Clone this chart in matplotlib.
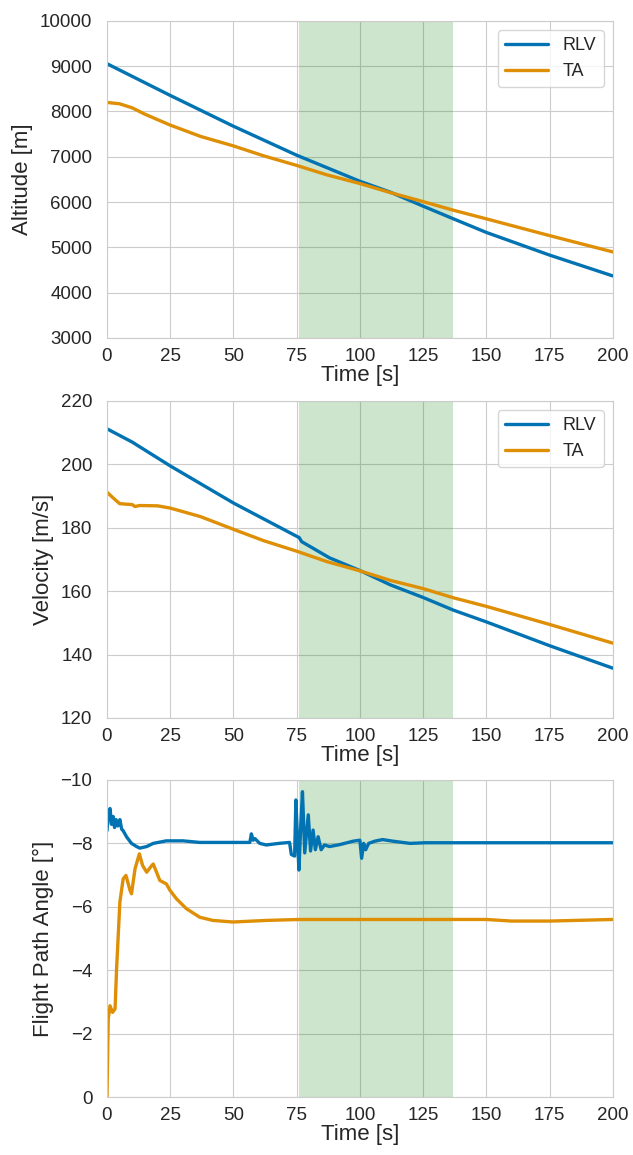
import matplotlib
matplotlib.use("Agg")
import matplotlib.pyplot as plt
import seaborn as sns

sns.set_style("whitegrid")
plt.rcParams['font.family'] = ['Liberation Sans', 'DejaVu Sans']

# altitude [m]
alt_rlv_t = [0, 25, 50, 75, 100, 112, 125, 137, 150, 175, 200]
alt_rlv = [9055, 8355, 7675, 7035, 6460, 6220, 5910, 5630, 5330, 4830, 4370]
alt_ta_t = [0, 5, 10, 15, 25, 37, 50, 62, 75, 87, 100, 112, 125, 137, 150, 175, 200]
alt_ta = [8200, 8170, 8080, 7940, 7700, 7450, 7240, 7020, 6810, 6600, 6410, 6210,
          6010, 5820, 5630, 5260, 4900]

# velocity [m/s]
vel_rlv_t = [0, 10, 25, 50, 75, 76, 77, 88, 100, 112, 125, 137, 150, 175, 200]
vel_rlv = [211.2, 207.0, 199.5, 187.8, 177.3, 176.9, 175.6, 170.5, 166.5, 162.0,
           158.0, 154.0, 150.3, 142.8, 135.7]
vel_ta_t = [0, 3, 5, 8, 10, 11, 13, 20, 25, 37, 50, 62, 75, 87, 100, 112, 125, 137,
            150, 175, 200]
vel_ta = [191.2, 189.0, 187.6, 187.4, 187.3, 186.7, 187.0, 186.9, 186.2, 183.5,
          179.5, 175.9, 172.6, 169.3, 166.4, 163.4, 160.8, 157.9, 155.2, 149.5, 143.6]

# flight path angle [deg]
fpa_rlv_t = [0, 0.6, 1.2, 1.8, 2.4, 3.0, 3.6, 4.3, 5.1, 5.8, 6.4, 7.8, 9.7, 11.7, 13.0,
             15.7, 18.3, 23.5, 30, 36.7, 56.5, 57.1, 57.8, 58.5, 60.4, 63, 68, 72.2,
             72.9, 74.2, 74.7, 75.3, 75.9, 76.6, 77.3, 78.2, 79.6, 80.5, 81.5, 82.4,
             83.5, 84.7, 86, 88, 92, 97.4, 100, 100.7, 101.5, 102.3, 103.5, 105.9,
             109, 113, 119.8, 126, 150, 175, 200]
fpa_rlv = [-8.4, -8.9, -9.1, -8.6, -8.85, -8.5, -8.75, -8.55, -8.75, -8.45, -8.4, -8.2,
           -8.0, -7.9, -7.85, -7.9, -8.0, -8.08, -8.08, -8.03, -8.03, -8.3, -8.1, -8.15,
           -8.0, -7.95, -8.0, -8.03, -7.65, -7.6, -9.37, -8.2, -7.16, -8.5, -9.63,
           -7.7, -8.9, -7.76, -8.42, -7.8, -8.21, -7.8, -7.95, -7.9, -7.96, -8.07, -8.1,
           -7.53, -8.0, -7.8, -8.0, -8.07, -8.12, -8.07, -8.0, -8.02, -8.02, -8.02, -8.02]
fpa_ta_t = [0, 0.5, 1.2, 2.2, 3.2, 3.8, 5.1, 6.4, 7.5, 9.1, 9.7, 11.1, 12.8, 14.1, 15.7,
            17.7, 18.3, 19.6, 20.9, 23.5, 24.9, 27.5, 31.4, 36.7, 41.9, 49.8, 63, 76,
            100, 150, 160, 175, 200]
fpa_ta = [0.0, -2.46, -2.88, -2.67, -2.78, -4.04, -6.15, -6.88, -6.99, -6.52, -6.41,
          -7.2, -7.67, -7.3, -7.09, -7.3, -7.35, -7.09, -6.83, -6.72, -6.52, -6.25,
          -5.94, -5.67, -5.57, -5.52, -5.57, -5.6, -5.6, -5.6, -5.55, -5.55, -5.6]

shade = (76, 137)
blue = '#0173b2'
orange = '#de8f05'

fig = plt.figure(figsize=(6.33, 11.55), dpi=100)
left, width, height = 0.169, 0.799, 0.2745
bottoms = [0.7074, 0.3784, 0.0502]
axes = [fig.add_axes([left, b, width, height]) for b in bottoms]

ax1, ax2, ax3 = axes
ax1.plot(alt_rlv_t, alt_rlv, color=blue, lw=2.4, label='RLV')
ax1.plot(alt_ta_t, alt_ta, color=orange, lw=2.4, label='TA')
ax1.set_ylim(3000, 10000)
ax1.set_ylabel('Altitude [m]')

ax2.plot(vel_rlv_t, vel_rlv, color=blue, lw=2.4, label='RLV')
ax2.plot(vel_ta_t, vel_ta, color=orange, lw=2.4, label='TA')
ax2.set_ylim(120, 220)
ax2.set_ylabel('Velocity [m/s]')

ax3.plot(fpa_rlv_t, fpa_rlv, color=blue, lw=2.4)
ax3.plot(fpa_ta_t, fpa_ta, color=orange, lw=2.4)
ax3.set_ylim(0, -10)
ax3.set_ylabel('Flight Path Angle [°]')

for ax in axes:
    ax.axvspan(*shade, color='green', alpha=0.2, lw=0)
    ax.set_xlim(0, 200)
    ax.set_xticks(range(0, 201, 25))
    ax.set_xlabel('Time [s]', fontsize=16, labelpad=0)
    ax.yaxis.label.set_size(16)
    ax.yaxis.labelpad = 5
    ax.tick_params(labelsize=13.5, pad=7)
    ax.tick_params(axis='x', pad=4)
for ax in (ax1, ax2):
    ax.legend(loc='upper right', fontsize=13, handlelength=2.4)

fig.savefig('out.png', dpi=100)
